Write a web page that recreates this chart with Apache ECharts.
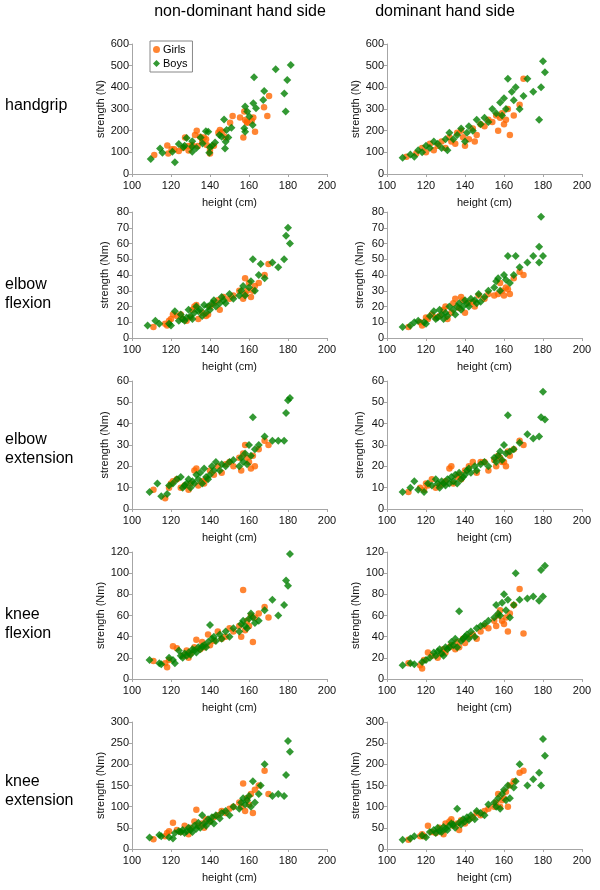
<!DOCTYPE html>
<html><head><meta charset="utf-8">
<script src="https://cdn.jsdelivr.net/npm/echarts@6/dist/echarts.min.js"></script>
<style>html,body{margin:0;padding:0;background:#fff}#c{width:600px;height:890px}</style>
</head><body><div id="c"></div>
<script>
// ---- texts / axes ----
const colTitles = ['non-dominant hand side', 'dominant hand side'];
const rowLabels = [['handgrip'], ['elbow', 'flexion'], ['elbow', 'extension'], ['knee', 'flexion'], ['knee', 'extension']];
const yNames = ['strength (N)', 'strength (Nm)', 'strength (Nm)', 'strength (Nm)', 'strength (Nm)'];
const yMax = [600, 80, 60, 120, 300];
const yStep = [100, 10, 10, 20, 50];
const xName = 'height (cm)';
const xMin = 100, xMax = 200, xStep = 20;
const seriesNames = ['Girls', 'Boys'];

// ---- data: [height (cm), strength] ----
const handgripNdGirls = [[111.4,88],[118.1,131],[118.6,95],[120.3,114],[121.7,114],[124,106],[127.2,168],[128.9,129],[130.8,134],[132.3,180],[133.2,200],[133.7,129],[134.9,172],[137,169],[138,160],[138.3,134],[140,111],[140,95],[144.3,191],[145.1,203],[146.5,195],[150.3,237],[151.6,268],[155.4,261],[157.1,169],[157.6,288],[158,249],[158.8,241],[159.1,237],[161.4,246],[162.2,261],[163.1,195],[167.7,308],[169.4,268],[170.3,360],[126,120],[129,108],[136,150],[142,130],[148,170]];
const handgripNdBoys = [[109.6,69],[114.4,118],[115.6,98],[122,54],[120.7,103],[124,138],[126.3,123],[128,166],[130.9,151],[130.9,103],[130.8,126],[135.2,168],[136.2,141],[137.9,197],[139.1,195],[140,123],[139.6,98],[142.6,145],[144.8,180],[146,172],[147.2,252],[147.7,118],[148,149],[149.4,169],[148.5,203],[151,214],[158,311],[159.1,288],[157.6,211],[158,195],[160.2,265],[161.9,226],[162.2,326],[162.6,446],[163.6,303],[167.3,341],[167.8,383],[173.7,483],[178.1,372],[178.8,288],[179.6,434],[181.4,503],[127,130],[133,120],[141,130]];
const handgripDGirls = [[110,80],[115,95],[118,120],[120,100],[122,140],[124,110],[126,130],[128,150],[130,120],[132,170],[133,150],[135,140],[136,190],[138,200],[140,130],[142,160],[144,210],[146,180],[148,230],[150,220],[152,250],[154,240],[156,270],[157,200],[158,260],[159,280],[160,230],[161,250],[162,300],[163,180],[165,270],[168,320],[170,440],[145,150],[139,170]];
const handgripDBoys = [[108,75],[112,90],[114,80],[116,110],[118,100],[120,130],[122,120],[124,150],[126,140],[128,120],[130,160],[131,110],[132,190],[134,160],[136,180],[138,210],[140,150],[141,190],[142,220],[144,200],[146,250],[148,230],[150,260],[152,240],[154,300],[156,280],[158,330],[159,270],[160,350],[161,300],[162,440],[164,380],[165,340],[166,400],[168,300],[170,360],[172,440],[175,380],[178,250],[179,400],[180,520],[181,470]];
const elbowFlexNdGirls = [[111,7],[117,9],[118,8],[119,11],[120,12],[121,15],[123,14],[126,12],[128,11],[130,13],[131,18],[132,20],[133,21],[134,12],[136,16],[138,14],[140,20],[142,22],[144,24],[145,18],[147,26],[150,25],[152,27],[155,30],[157,25],[158,38],[158,28],[159,30],[160,35],[161,26],[162,30],[163,33],[165,35],[168,40],[170,47],[125,15],[139,15]];
const elbowFlexNdBoys = [[108,8],[112,11],[114,9],[119,9],[120,8],[122,17],[124,11],[125,15],[126,12],[127,11],[128,13],[129,18],[130,14],[131,12],[132,16],[133,20],[134,17],[135,18],[136,14],[137,21],[138,16],[139,20],[140,18],[141,22],[142,24],[143,20],[145,22],[146,26],[147,24],[148,22],[150,28],[152,25],[155,27],[156,30],[157,33],[158,27],[160,32],[161,36],[162,50],[163,30],[165,40],[166,47],[168,38],[172,48],[175,45],[178,50],[179,65],[180,70],[181,60]];
const elbowFlexDGirls = [[111,7],[117,10],[118,8],[120,13],[121,12],[123,15],[125,13],[127,14],[129,18],[130,20],[131,12],[133,16],[134,22],[135,25],[137,19],[139,24],[140,16],[142,22],[144,23],[145,20],[147,27],[150,25],[152,28],[155,27],[157,28],[158,35],[159,30],[160,27],[161,32],[162,31],[163,28],[165,38],[168,42],[170,40],[138,26]];
const elbowFlexDBoys = [[108,7],[112,8],[114,10],[116,11],[119,10],[120,9],[122,14],[124,17],[125,12],[126,13],[127,18],[128,15],[129,12],[130,16],[131,14],[132,20],[134,18],[135,15],[136,20],[137,22],[138,18],[139,20],[140,24],[141,22],[142,20],[143,25],[145,24],[146,22],[147,28],[148,23],[150,26],[152,30],[155,32],[156,36],[157,38],[158,30],[160,40],[161,37],[162,52],[163,35],[165,40],[166,52],[168,45],[172,48],[175,52],[178,58],[179,77],[180,52],[178,48]];
const elbowExtNdGirls = [[111,9],[117,5],[119,10],[120,12],[121,13],[123,14],[125,10],[127,11],[129,9],[130,12],[132,18],[133,19],[134,11],[136,13],[138,14],[140,18],[142,16],[144,20],[146,17],[148,21],[150,22],[152,20],[155,24],[156,18],[157,26],[158,30],[159,24],[160,22],[161,19],[162,25],[163,20],[165,28],[168,32],[170,30],[137,12]];
const elbowExtNdBoys = [[109,8],[113,12],[115,6],[118,7],[119,11],[121,12],[123,14],[125,15],[126,10],[127,11],[128,12],[129,14],[130,10],[131,13],[132,12],[133,16],[134,14],[135,17],[136,12],[137,19],[138,15],[139,14],[140,16],[141,20],[142,18],[143,22],[145,18],[146,21],[148,20],[150,22],[152,23],[155,20],[156,24],[157,22],[158,26],[159,21],[160,30],[161,25],[162,43],[163,28],[165,30],[168,34],[172,32],[175,32],[178,32],[179,45],[180,51],[181,52]];
const elbowExtDGirls = [[111,8],[117,10],[119,9],[120,12],[121,11],[123,14],[125,10],[127,11],[129,12],[130,13],[132,19],[133,20],[134,12],[136,15],[138,14],[140,18],[142,20],[144,22],[146,17],[148,22],[150,22],[152,18],[155,23],[156,20],[157,25],[158,24],[159,22],[160,22],[161,20],[162,27],[163,25],[165,28],[168,32],[170,30],[137,16]];
const elbowExtDBoys = [[108,8],[112,10],[114,13],[116,9],[119,8],[121,12],[123,11],[125,14],[126,12],[127,10],[128,13],[129,12],[130,11],[131,14],[132,12],[133,15],[134,13],[135,16],[136,12],[137,17],[138,14],[139,15],[140,16],[141,18],[142,19],[143,17],[145,20],[146,18],[148,21],[150,22],[152,20],[155,24],[156,22],[157,25],[158,27],[159,23],[160,30],[161,26],[162,44],[163,27],[165,28],[168,31],[172,35],[175,33],[178,34],[179,43],[180,55],[181,42]];
const kneeFlexNdGirls = [[111,17],[117,15],[118,11],[119,18],[121,31],[123,29],[126,22],[128,27],[129,20],[130,24],[132,30],[133,37],[135,28],[137,30],[139,42],[140,32],[142,36],[144,45],[146,38],[148,40],[150,48],[152,45],[155,50],[156,40],[157,84],[158,46],[159,55],[160,50],[161,60],[162,35],[163,58],[165,62],[168,68],[170,58],[136,35]];
const kneeFlexNdBoys = [[109,18],[114,15],[115,14],[119,20],[121,18],[122,15],[124,27],[125,22],[126,20],[127,24],[128,22],[129,25],[130,23],[131,28],[132,27],[133,25],[134,30],[135,28],[136,31],[137,32],[138,30],[139,35],[140,51],[141,38],[142,40],[143,36],[145,42],[146,38],[148,45],[150,40],[152,48],[155,45],[156,52],[157,55],[158,50],[159,48],[160,57],[161,62],[162,58],[163,53],[165,55],[168,65],[172,75],[175,60],[178,70],[179,93],[180,88],[181,118]];
const kneeFlexDGirls = [[111,15],[117,13],[118,10],[119,18],[121,25],[123,22],[126,20],[128,24],[129,28],[130,25],[132,30],[133,32],[135,28],[137,30],[139,38],[140,34],[142,40],[144,42],[146,38],[148,45],[150,50],[152,48],[155,55],[156,50],[157,60],[158,65],[159,55],[160,52],[161,58],[162,45],[163,62],[165,70],[168,85],[170,43],[136,35]];
const kneeFlexDBoys = [[108,13],[112,15],[114,14],[118,16],[120,18],[122,20],[124,25],[125,22],[126,26],[127,28],[128,24],[129,22],[130,30],[131,28],[132,30],[133,35],[134,32],[135,38],[136,30],[137,64],[138,36],[139,38],[140,40],[141,42],[142,38],[143,45],[145,40],[146,48],[148,50],[150,52],[152,55],[155,58],[156,70],[157,62],[158,60],[159,72],[160,80],[161,65],[162,75],[163,58],[165,70],[166,100],[168,75],[172,76],[175,78],[178,74],[179,103],[180,78],[181,107]];
const kneeExtNdGirls = [[111,23],[117,30],[118,38],[119,42],[121,62],[123,45],[125,40],[127,55],[129,35],[130,50],[132,65],[133,93],[134,55],[136,60],[138,70],[140,65],[142,75],[144,80],[146,90],[148,85],[150,95],[152,100],[155,110],[156,100],[157,155],[158,90],[159,120],[160,105],[161,130],[162,85],[163,140],[165,150],[168,185],[170,130],[137,50]];
const kneeExtNdBoys = [[109,27],[114,33],[115,30],[119,28],[121,25],[122,38],[124,42],[125,40],[126,45],[127,38],[128,42],[129,50],[130,45],[131,40],[132,55],[133,48],[134,62],[135,50],[136,80],[137,60],[138,55],[139,70],[140,65],[141,75],[142,60],[143,80],[145,72],[146,85],[148,90],[150,80],[152,100],[155,95],[156,110],[157,120],[158,105],[159,115],[160,125],[161,100],[162,160],[163,110],[165,130],[166,150],[168,200],[172,125],[175,130],[178,125],[179,175],[180,255],[181,230]];
const kneeExtDGirls = [[111,22],[117,30],[118,35],[119,30],[121,55],[123,40],[125,38],[127,50],[129,35],[130,60],[132,65],[133,70],[134,55],[136,60],[138,68],[140,60],[142,70],[144,75],[146,85],[148,80],[150,90],[152,95],[155,100],[156,110],[157,130],[158,100],[159,115],[160,120],[161,135],[162,100],[163,150],[165,160],[168,180],[170,185],[137,45]];
const kneeExtDBoys = [[108,22],[112,25],[114,30],[118,32],[120,28],[122,40],[124,45],[125,38],[126,50],[127,42],[128,40],[129,52],[130,48],[131,45],[132,55],[133,60],[134,58],[135,50],[136,95],[137,62],[138,58],[139,70],[140,65],[141,75],[142,68],[143,80],[145,70],[146,90],[148,85],[150,80],[152,105],[155,110],[156,100],[157,120],[158,95],[159,130],[160,140],[161,115],[162,150],[163,120],[165,145],[166,160],[168,200],[172,150],[175,165],[178,180],[179,150],[180,260],[181,220]];

const panels = [
  [handgripNdGirls, handgripNdBoys, handgripDGirls, handgripDBoys],
  [elbowFlexNdGirls, elbowFlexNdBoys, elbowFlexDGirls, elbowFlexDBoys],
  [elbowExtNdGirls, elbowExtNdBoys, elbowExtDGirls, elbowExtDBoys],
  [kneeFlexNdGirls, kneeFlexNdBoys, kneeFlexDGirls, kneeFlexDBoys],
  [kneeExtNdGirls, kneeExtNdBoys, kneeExtDGirls, kneeExtDBoys]
];

// ---- layout ----
const FONT = '"Liberation Sans", Arial, sans-serif';
const colLeft = [132, 387], gridW = 195;
const rowTop = [44, 212, 381, 552, 722];
const rowH = [130, 126, 128, 127, 127];
const girlColor = '#FF6600', boyColor = '#008000';
const axisGray = '#a6a6a6';

const grids = [], xAxes = [], yAxes = [], series = [];
for (let r = 0; r < 5; r++) {
  for (let c = 0; c < 2; c++) {
    const i = grids.length;
    grids.push({ left: colLeft[c], top: rowTop[r], width: gridW, height: rowH[r] });
    xAxes.push({
      type: 'value', gridIndex: i, min: xMin, max: xMax, interval: xStep,
      axisLine: { show: true, lineStyle: { color: axisGray } },
      axisTick: { show: true, length: 3, lineStyle: { color: axisGray } },
      axisLabel: { fontSize: 11, color: '#111', margin: 6, fontFamily: FONT },
      splitLine: { show: false },
      name: xName, nameLocation: 'middle', nameGap: 23,
      nameTextStyle: { fontSize: 11, color: '#111', fontFamily: FONT }
    });
    yAxes.push({
      type: 'value', gridIndex: i, min: 0, max: yMax[r], interval: yStep[r],
      axisLine: { show: true, lineStyle: { color: axisGray } },
      axisTick: { show: true, length: 3, lineStyle: { color: axisGray } },
      axisLabel: { fontSize: 11, color: '#111', margin: 3, fontFamily: FONT },
      splitLine: { show: false },
      name: yNames[r], nameLocation: 'middle', nameGap: 22,
      nameTextStyle: { fontSize: 11, color: '#111', fontFamily: FONT }
    });
    const d = panels[r];
    series.push({
      type: 'scatter', name: seriesNames[0], xAxisIndex: i, yAxisIndex: i,
      data: d[c * 2], symbol: 'circle', symbolSize: 6.5,
      itemStyle: { color: girlColor }, silent: true
    });
    series.push({
      type: 'scatter', name: seriesNames[1], xAxisIndex: i, yAxisIndex: i,
      data: d[c * 2 + 1], symbol: 'diamond', symbolSize: 8,
      itemStyle: { color: boyColor }, silent: true
    });
  }
}

const graphics = [];
const colCenter = [240, 445];
colTitles.forEach((t, c) => graphics.push({
  type: 'text', x: colCenter[c], y: 4,
  style: { text: t, fontSize: 16, fontFamily: FONT, fill: '#000', textAlign: 'center' }
}));
const rowLabelY = [96, 275, 430, 605, 772];
rowLabels.forEach((lines, r) => graphics.push({
  type: 'text', x: 5, y: rowLabelY[r],
  style: { text: lines.join('\n'), fontSize: 16, lineHeight: 19, fontFamily: FONT, fill: '#000' }
}));

const chart = echarts.init(document.getElementById('c'), null, { renderer: 'canvas' });
chart.setOption({
  animation: false,
  backgroundColor: '#fff',
  grid: grids, xAxis: xAxes, yAxis: yAxes, series: series,
  legend: {
    data: [{ name: 'Girls', icon: 'circle' }, { name: 'Boys', icon: 'diamond' }],
    orient: 'vertical', left: 150, top: 41, itemWidth: 7, itemHeight: 7, itemGap: 3,
    padding: [3, 5, 3, 3], borderColor: '#888', borderWidth: 1, backgroundColor: '#fff',
    textStyle: { fontSize: 11, color: '#000', fontFamily: FONT, padding: [0, 0, 0, -2] },
    selectedMode: false
  },
  graphic: graphics
});
</script>
</body></html>
